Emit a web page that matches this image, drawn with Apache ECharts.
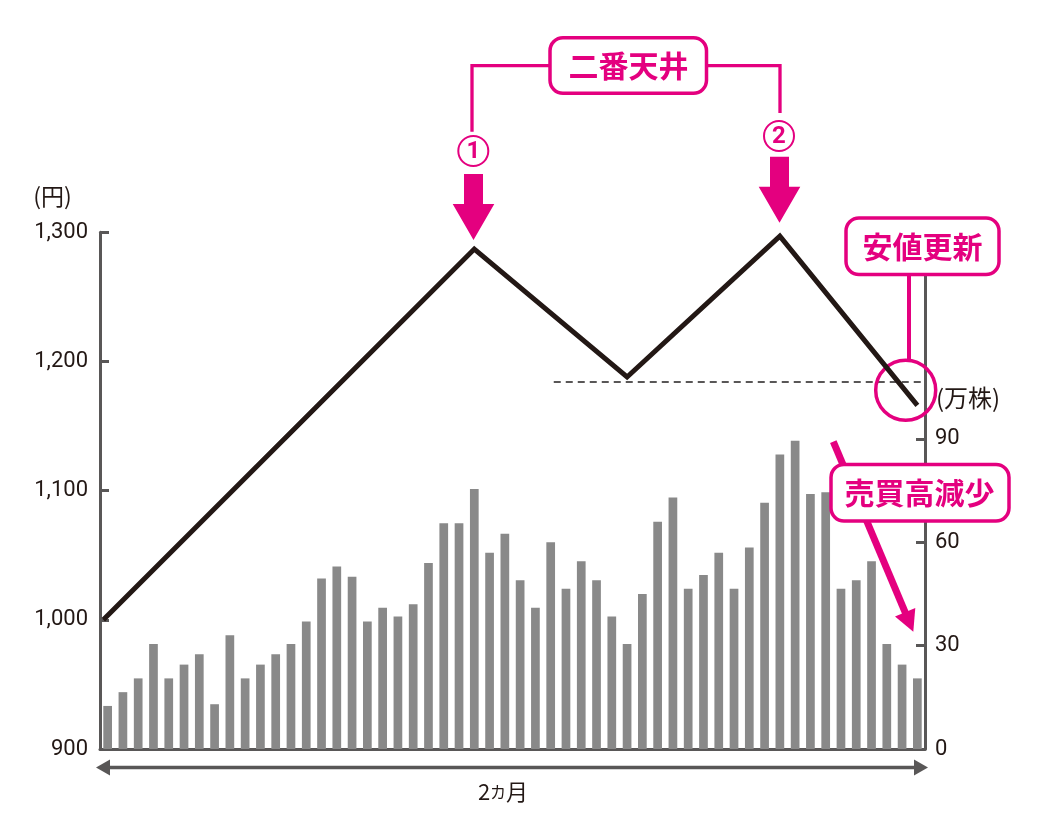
<!DOCTYPE html>
<html>
<head>
<meta charset="utf-8">
<script src="https://cdn.jsdelivr.net/npm/echarts@6/dist/echarts.min.js"></script>
<style>
html,body{margin:0;padding:0;background:#fff;}
#chart{width:1062px;height:822px;}
</style>
</head>
<body>
<div id="chart"></div>
<script>
// ---- data ----
const days = ['1','2','3','4','5','6','7','8','9','10','11','12','13','14','15','16','17','18',
  '19','20','21','22','23','24','25','26','27','28','29','30','31','32','33','34','35','36',
  '37','38','39','40','41','42','43','44','45','46','47','48','49','50','51','52','53','54'];
const volume = [12.5,16.5,20.5,30.5,20.5,24.5,27.5,13,33,20.5,
  24.5,27.5,30.5,37,49.5,53,50,37,41,38.5,
  42,54,65.5,65.5,75.5,57,62.5,49,41,60,
  46.5,54.5,49,38.5,30.5,45,66,73,46.5,50.5,
  57,46.5,58.5,71.5,85.5,89.5,74,74.5,46.5,49,
  54.5,30.5,24.5,20.5];
const priceX = [-0.28, 24, 34, 44, 53];
const priceY = [1000, 1287, 1188, 1297, 1166];
const supportLevel = 1184;
const supportFromX = 29.2;
const priceTicks = [900, 1000, 1100, 1200, 1300];
const volumeTicks = [0, 30, 60, 90];
const priceUnit = '(円)';
const volumeUnit = '(万株)';
const periodLabel = '2カ月';
const notePeaks = '二番天井';
const noteLow = '安値更新';
const noteVolume = '売買高減少';

const M = '#e4007f';
const AX = '#595757';
const TX = '#231815';
const CJK = '"Noto Sans CJK JP", "Noto Sans", sans-serif';

const chart = echarts.init(document.getElementById('chart'), null, {renderer: 'canvas'});

function box(x, y, w, h, text, cx, cy) {
  return [
    {type: 'rect', z: 200, shape: {x: x, y: y, width: w, height: h, r: 13},
     style: {fill: '#fff', stroke: M, lineWidth: 3.5}},
    {type: 'text', z: 201, x: cx, y: cy,
     style: {text: text, fill: M, fontSize: 30, fontWeight: 'bold', fontFamily: CJK,
             align: 'center', verticalAlign: 'middle'}}
  ];
}
function numCircle(cx, cy, t) {
  return [
    {type: 'circle', z: 200, shape: {cx: cx, cy: cy, r: 15}, style: {fill: '#fff', stroke: M, lineWidth: 2}},
    {type: 'text', z: 201, x: cx, y: cy + 1,
     style: {text: t, fill: M, fontSize: 24, fontWeight: 'bold', fontFamily: 'Roboto, sans-serif',
             align: 'center', verticalAlign: 'middle'}}
  ];
}
function downArrow(cx, top, tip) {
  const sw = 9.5, hw = 20.8, headTop = tip - 36;
  return {type: 'polygon', z: 200, shape: {points: [
    [cx - sw, top], [cx + sw, top], [cx + sw, headTop], [cx + hw, headTop],
    [cx, tip], [cx - hw, headTop], [cx - sw, headTop]]}, style: {fill: M}};
}

// volume arrow geometry
const a0 = [833.3, 441.7], aTip = [913.3, 631.7];
const dx = aTip[0] - a0[0], dy = aTip[1] - a0[1], len = Math.hypot(dx, dy);
const ux = dx / len, uy = dy / len, px = uy, py = -ux;
const hb = [aTip[0] - 21 * ux, aTip[1] - 21 * uy];

const graphics = [].concat(
  // unit labels
  [{type: 'text', x: 52.5, y: 196, style: {text: priceUnit, fill: TX, fontSize: 23, fontFamily: CJK, align: 'center', verticalAlign: 'middle'}},
   {type: 'text', x: 936, y: 398, style: {text: volumeUnit, fill: TX, fontSize: 24, fontFamily: CJK, align: 'left', verticalAlign: 'middle'}}],
  // bracket for 二番天井
  [{type: 'polyline', z: 190, shape: {points: [[472, 131.7], [472, 65.7], [550, 65.7]]}, style: {stroke: M, lineWidth: 3.3, fill: null}},
   {type: 'polyline', z: 190, shape: {points: [[706, 65.7], [780, 65.7], [780, 113]]}, style: {stroke: M, lineWidth: 3.3, fill: null}}],
  box(550, 37.8, 156.5, 55.5, notePeaks, 628.5, 66),
  numCircle(473.3, 151, '1'),
  numCircle(779, 136, '2'),
  [downArrow(473.5, 174, 240), downArrow(779.5, 156.7, 222.7)],
  // 安値更新
  [{type: 'line', z: 190, shape: {x1: 909, y1: 274, x2: 909, y2: 361}, style: {stroke: M, lineWidth: 4}},
   {type: 'circle', z: 100, shape: {cx: 905.7, cy: 390.3, r: 30}, style: {fill: null, stroke: M, lineWidth: 3.5}}],
  box(846, 218, 153, 56.5, noteLow, 922.5, 246.5),
  // 売買高減少 arrow
  [{type: 'line', z: 190, shape: {x1: a0[0], y1: a0[1], x2: hb[0] + 2 * ux, y2: hb[1] + 2 * uy}, style: {stroke: M, lineWidth: 7}},
   {type: 'polygon', z: 190, shape: {points: [[aTip[0], aTip[1]], [hb[0] + 11 * px, hb[1] + 11 * py], [hb[0] - 11 * px, hb[1] - 11 * py]]}, style: {fill: M}}],
  box(831, 464.5, 178, 56.5, noteVolume, 919.5, 493),
  // period double arrow
  [{type: 'line', shape: {x1: 108, y1: 767.5, x2: 916, y2: 767.5}, style: {stroke: AX, lineWidth: 3.3}},
   {type: 'polygon', shape: {points: [[96, 767.5], [110, 759.5], [110, 775.5]]}, style: {fill: AX}},
   {type: 'polygon', shape: {points: [[928, 767.5], [914, 759.5], [914, 775.5]]}, style: {fill: AX}},
   {type: 'text', x: 503, y: 792,
    style: {text: '{a|2}{b|カ}{a|月}', fontSize: 22, fontFamily: CJK, fill: TX,
            align: 'center', verticalAlign: 'middle',
            rich: {a: {fontSize: 22, fontFamily: CJK, fill: TX},
                   b: {fontSize: 16, fontFamily: CJK, fill: TX}}}}]
);

const option = {
  animation: false,
  backgroundColor: '#fff',
  grid: {left: 100, right: 137, top: 232.3, bottom: 73},
  xAxis: [
    {type: 'category', data: days, boundaryGap: true,
     axisLine: {show: true, onZero: false, lineStyle: {color: AX, width: 3}},
     axisTick: {show: false}, axisLabel: {show: false}, splitLine: {show: false}},
    {type: 'value', min: -0.5, max: 53.5, show: false}
  ],
  yAxis: [
    {type: 'value', position: 'left', min: 900, max: 1300, interval: 100,
     axisLine: {show: true, onZero: false, lineStyle: {color: AX, width: 3}},
     axisTick: {show: true, inside: true, length: 9, customValues: priceTicks, lineStyle: {color: AX, width: 3}},
     axisLabel: {customValues: priceTicks, color: TX, fontFamily: 'Roboto, sans-serif', fontSize: 22, margin: 12,
                 formatter: v => Number(v).toLocaleString('en-US')},
     splitLine: {show: false}},
    {type: 'value', position: 'right', min: 0, max: 150,
     axisLine: {show: true, onZero: false, lineStyle: {color: AX, width: 3}},
     axisTick: {show: true, inside: true, length: 9, customValues: volumeTicks, lineStyle: {color: AX, width: 3}},
     axisLabel: {customValues: volumeTicks, color: TX, fontFamily: 'Roboto, sans-serif', fontSize: 22, margin: 10},
     splitLine: {show: false}}
  ],
  series: [
    {type: 'bar', name: '売買高', xAxisIndex: 0, yAxisIndex: 1, data: volume, barWidth: 8.7,
     itemStyle: {color: '#898989'}, silent: true},
    {type: 'line', name: '株価', xAxisIndex: 1, yAxisIndex: 0, z: 150,
     data: priceX.map((x, i) => [x, priceY[i]]), symbol: 'none',
     lineStyle: {color: TX, width: 5, join: 'miter', cap: 'butt'},
     markLine: {silent: true, symbol: 'none', label: {show: false},
       lineStyle: {type: [7, 5], color: AX, width: 1.8},
       data: [[{coord: [supportFromX, supportLevel]}, {coord: [53.5, supportLevel]}]]}}
  ],
  graphic: graphics
};
chart.setOption(option);
</script>
</body>
</html>
